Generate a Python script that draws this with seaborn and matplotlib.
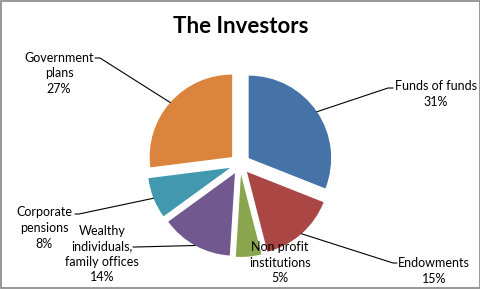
import matplotlib
matplotlib.use("Agg")
import matplotlib.pyplot as plt
from matplotlib.patches import Rectangle
import numpy as np
import seaborn as sns

# Investor mix (share of commitments, %)
categories = ["Funds of funds", "Endowments", "Non profit\ninstitutions",
              "Wealthy\nindividuals,\nfamily offices", "Corporate\npensions",
              "Government\nplans"]
shares = [31, 15, 5, 14, 8, 27]
slice_colors = ["#4572A7", "#AA4643", "#89A54E", "#71588F", "#4198AF", "#DB843D"]

sns.set_theme(style="white")
plt.rcParams["font.family"] = ["Lato", "DejaVu Sans"]

W, H = 481, 289
fig = plt.figure(figsize=(W / 100, H / 100), dpi=100)
ax = fig.add_axes([0, 0, 1, 1])

cx, cy, R = 240, H - 164, 82.5
# every slice pulled out from the centre
wedges, _ = ax.pie(shares, colors=sns.color_palette(slice_colors),
                   startangle=90, counterclock=False,
                   explode=[0.127 * R] * len(shares),
                   radius=R, center=(cx, cy),
                   wedgeprops=dict(linewidth=0))
# work in pixel units, y pointing up
ax.set_xlim(0, W)
ax.set_ylim(0, H)
ax.set_aspect("equal")
ax.axis("off")

# label placement: text centre, leader elbow, leader end (pixels from top-left)
label_layout = [
    dict(text=(436, 94), elbow=(388, 88), end=(393, 88)),
    dict(text=(434, 271), elbow=(393, 263), end=(397, 263)),
    dict(text=(280, 263), elbow=None, end=None),
    dict(text=(102, 254), elbow=(136, 247), end=(133, 247)),
    dict(text=(44, 228), elbow=(79, 214), end=(75, 214)),
    dict(text=(59, 73), elbow=(100, 58), end=(95, 58)),
]

for wedge, name, value, lay in zip(wedges, categories, shares, label_layout):
    tx, ty = lay["text"]
    ax.text(tx, H - ty, f"{name}\n{value}%", ha="center", va="center",
            fontsize=9, color="black", linespacing=1.35, zorder=5)
    if lay["elbow"] is None:
        continue
    mid = np.deg2rad((wedge.theta1 + wedge.theta2) / 2)
    wx, wy = wedge.center
    px = wx + wedge.r * np.cos(mid)
    py = wy + wedge.r * np.sin(mid)
    ex, ey = lay["elbow"]
    qx, qy = lay["end"]
    ax.plot([px, ex, qx], [py, H - ey, H - qy], color="black", lw=0.8,
            solid_joinstyle="miter", zorder=4)

fig.text(240.5 / W, 1 - 33 / H, "The Investors", ha="center", va="baseline",
         fontsize=16, fontweight="bold", color="black")

ax.add_patch(Rectangle((0.5, 0.5), W - 1, H - 1, fill=False,
                       edgecolor="#868686", lw=1.2, clip_on=False))

fig.savefig("out.png", dpi=100, facecolor="white")
